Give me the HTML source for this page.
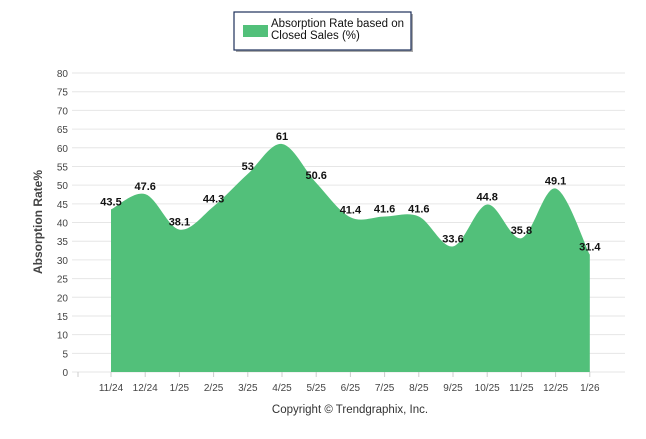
<!DOCTYPE html>
<html><head><meta charset="utf-8"><style>
body{margin:0;background:#fff;width:646px;height:434px;overflow:hidden;font-family:"Liberation Sans",sans-serif}
</style></head><body>
<svg width="646" height="434">
<g id="grid"></g>
<g id="area"></g>
<g id="labels"></g>
<g id="axes"></g>
<text x="42" y="222" transform="rotate(-90 42 222)" text-anchor="middle" font-size="12" font-weight="bold" fill="#444">Absorption Rate%</text>
<text x="350" y="413" text-anchor="middle" font-size="11.5" fill="#333">Copyright © Trendgraphix, Inc.</text>
<g>
<rect x="236" y="14" width="177" height="38" fill="#555" opacity="0.5"/>
<rect x="234" y="12" width="177" height="38" fill="#fff" stroke="#1d2f5a" stroke-width="1.2"/>
<rect x="243" y="25" width="25" height="12" fill="#52c07a"/>
<text x="271" y="27" font-size="11.5" fill="#111">Absorption Rate based on</text>
<text x="271" y="39" font-size="11.5" fill="#111">Closed Sales (%)</text>
</g>
</svg>
<script>
const categories=["11/24","12/24","1/25","2/25","3/25","4/25","5/25","6/25","7/25","8/25","9/25","10/25","11/25","12/25","1/26"];
const values=[43.5,47.6,38.1,44.3,53,61,50.6,41.4,41.6,41.6,33.6,44.8,35.8,49.1,31.4];
const yTicks=[0,5,10,15,20,25,30,35,40,45,50,55,60,65,70,75,80];
const NS="http://www.w3.org/2000/svg";
const x0=111,step=34.2,yZero=372,yTop=73,yMax=80;
const xs=i=>x0+i*step;
const ys=v=>yZero-(v/yMax)*(yZero-yTop);
function mk(tag,attrs,parent){const e=document.createElementNS(NS,tag);for(const k in attrs)e.setAttribute(k,attrs[k]);parent.appendChild(e);return e;}
const grid=document.getElementById('grid'),axes=document.getElementById('axes');
yTicks.forEach(t=>{
  const l=mk('line',{x1:72,x2:625,y1:ys(t),y2:ys(t),stroke:'#e6e6e6'},grid);
  
  
  const tx=mk('text',{x:68,y:ys(t)+4,'text-anchor':'end','font-size':10,fill:'#444'},axes);
  tx.textContent=t;
  
  
});
mk('line',{x1:78,x2:78,y1:372,y2:377,stroke:'#ccc'},axes);
categories.forEach((c,i)=>{
  mk('line',{x1:xs(i),x2:xs(i),y1:372,y2:377,stroke:'#ccc'},axes);
  const tx=mk('text',{x:xs(i),y:391,'text-anchor':'middle','font-size':10,fill:'#444'},axes);
  tx.textContent=c;
  
  
});
const pts=values.map((v,i)=>[xs(i),ys(v)]);
let d=`M${pts[0][0]},${yZero} L${pts[0][0]},${pts[0][1]}`;
for(let i=0;i<pts.length-1;i++){
  const p0=pts[Math.max(0,i-1)],p1=pts[i],p2=pts[i+1],p3=pts[Math.min(pts.length-1,i+2)];
  const t=0.5/3;
  const c1=[p1[0]+(p2[0]-p0[0])*t,p1[1]+(p2[1]-p0[1])*t];
  const c2=[p2[0]-(p3[0]-p1[0])*t,p2[1]-(p3[1]-p1[1])*t];
  d+=` C${c1[0]},${c1[1]} ${c2[0]},${c2[1]} ${p2[0]},${p2[1]}`;
}
d+=` L${pts[pts.length-1][0]},${yZero} Z`;
const a=mk('path',{d:d,fill:'#52c07a'},document.getElementById('area'));


const lab=document.getElementById('labels');
values.forEach((v,i)=>{
  const tx=mk('text',{x:xs(i),y:ys(v)-4,'text-anchor':'middle','font-size':11,'font-weight':'bold',fill:'#111'},lab);
  tx.textContent=v;
  
  
});
</script>
</body></html>
